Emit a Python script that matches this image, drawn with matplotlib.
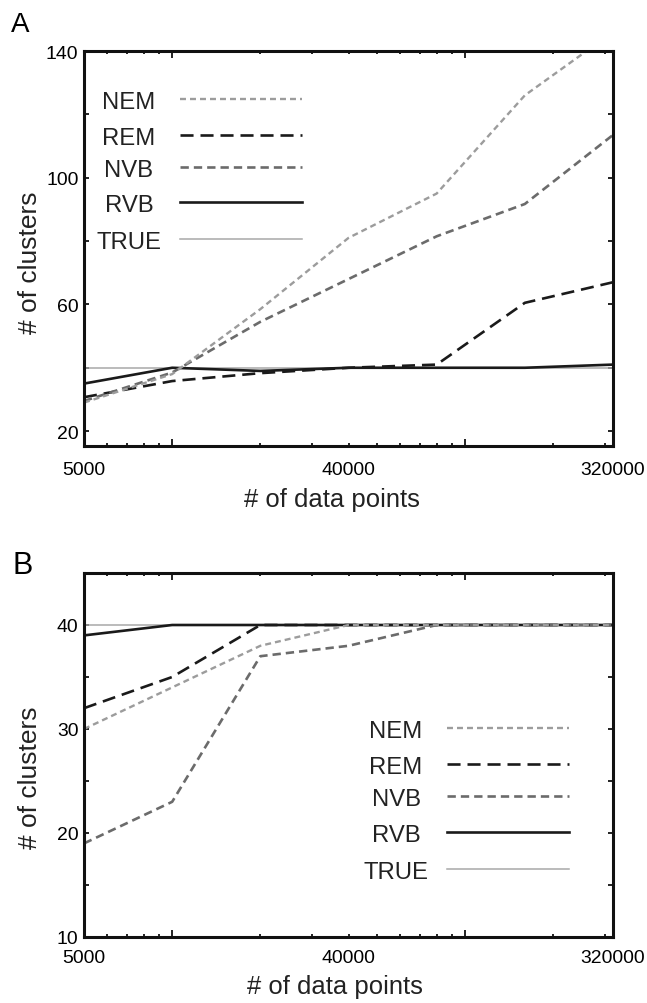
import math
import matplotlib
matplotlib.use("Agg")
import matplotlib.pyplot as plt
from matplotlib import font_manager
from matplotlib.ticker import FixedLocator, FuncFormatter, NullFormatter

# x positions (number of data points)
x_points = [5000, 10000, 20000, 40000, 80000, 160000, 320000]
x_labeled = [5000, 40000, 320000]
true_k = 40

# panel A
a_nem = [29, 38, 58.5, 81, 95, 126, 146]
a_rem = [30.7, 35.8, 38.3, 40, 41, 60.5, 67]
a_nvb = [29.5, 38.5, 54.5, 68, 81.5, 91.7, 113.5]
a_rvb = [35, 40, 39, 40, 40, 40, 41]

# panel B
b_nem = [30, 34, 38, 40, 40, 40, 40]
b_rem = [32, 35, 40, 40, 40, 40, 40]
b_nvb = [19, 23, 37, 38, 40, 40, 40]
b_rvb = [39, 40, 40, 40, 40, 40, 40]

names = {f.name for f in font_manager.fontManager.ttflist}
narrow = "Liberation Sans Narrow" if "Liberation Sans Narrow" in names else "Liberation Sans"
k = 1.0 if narrow == "Liberation Sans Narrow" else 0.84

plt.rcParams["font.family"] = ["Liberation Sans", "DejaVu Sans"]
plt.rcParams["lines.scale_dashes"] = False

styles = {
    "NEM": dict(color="#9c9c9c", lw=1.7, ls=(0, (4.3, 2.9))),
    "REM": dict(color="#1a1a1a", lw=1.9, ls=(0, (9.4, 5.0))),
    "NVB": dict(color="#6b6b6b", lw=1.9, ls=(0, (6.0, 3.6))),
    "RVB": dict(color="#1a1a1a", lw=1.9, ls="-"),
    "TRUE": dict(color="#a8a8a8", lw=1.1, ls="-"),
}

fig = plt.figure(figsize=(6.47, 10.04), dpi=100)
ax_a = fig.add_axes([84 / 647, 1 - 447 / 1004, 529 / 647, 395 / 1004])
ax_b = fig.add_axes([84 / 647, 1 - 938 / 1004, 529 / 647, 364 / 1004])


def draw(ax, series, ylim, ystep, ylabels, leg_x, leg_line, leg_y, xpad, ylab_y, xlab):
    ax.plot(x_points, [true_k] * len(x_points), **styles["TRUE"])
    for name in ["RVB", "REM", "NVB", "NEM"]:
        ax.plot(x_points, series[name], **styles[name])
    ax.set_xscale("log")
    ax.set_xlim(5000, 320000)
    ax.set_ylim(*ylim)

    ax.xaxis.set_major_locator(FixedLocator([1e4, 1e5]))
    ax.xaxis.set_major_formatter(NullFormatter())
    minor = [5000] + [m * d for d in (1e3, 1e4, 1e5) for m in range(2, 10)
                      if 6000 <= m * d <= 300000] + [320000]
    ax.xaxis.set_minor_locator(FixedLocator(minor))
    ax.xaxis.set_minor_formatter(FuncFormatter(
        lambda v, p: "%d" % round(v) if round(v) in x_labeled else ""))

    start = int(math.ceil(ylim[0] / ystep) * ystep)
    yt = list(range(start, int(ylim[1]) + 1, ystep))
    ax.yaxis.set_major_locator(FixedLocator(yt))
    ax.yaxis.set_major_formatter(FuncFormatter(
        lambda v, p: "%d" % v if int(v) in ylabels else ""))

    ax.tick_params(which="both", direction="in", top=True, right=True,
                   width=1.3, color="#111111")
    ax.tick_params(axis="x", which="major", length=5)
    ax.tick_params(axis="x", which="minor", length=2.5, pad=xpad,
                   labelsize=16.6 * k, labelfontfamily=narrow)
    ax.tick_params(axis="y", length=3.5, pad=4,
                   labelsize=16.6 * k, labelfontfamily=narrow)
    for s in ax.spines.values():
        s.set_linewidth(2.2)
        s.set_color("#111111")

    ax.set_ylabel("# of clusters", fontsize=19, va="center", color="#222222")
    ax.yaxis.set_label_coords(-0.102, ylab_y)
    if xlab is not None:
        ax.set_xlabel("# of data points", fontsize=22 * k, family=narrow,
                      va="center", color="#222222")
        ax.xaxis.set_label_coords(*xlab)

    for name, y in zip(["NEM", "REM", "NVB", "RVB", "TRUE"], leg_y):
        ax.text(leg_x, y - 0.008, name, transform=ax.transAxes, ha="center",
                va="center", fontsize=20.5 * k, family=narrow, color="#222222")
        ax.plot(leg_line, [y, y], transform=ax.transAxes, **styles[name])


draw(ax_a, {"NEM": a_nem, "REM": a_rem, "NVB": a_nvb, "RVB": a_rvb},
     (15.3, 140), 20, [20, 60, 100, 140],
     0.085, [0.1815, 0.412], [0.878, 0.788, 0.707, 0.617, 0.524],
     10.5, 0.466, (0.469, -0.134))
draw(ax_b, {"NEM": b_nem, "REM": b_rem, "NVB": b_nvb, "RVB": b_rvb},
     (10, 45), 5, [10, 20, 30, 40],
     0.590, [0.687, 0.917], [0.573, 0.475, 0.387, 0.289, 0.187],
     8.6, 0.441, (0.474, -0.135))

fig.text(20.5 / 647, 1 - 24.5 / 1004, "A", fontsize=20, ha="center", va="center")
fig.text(22.5 / 647, 1 - 565.5 / 1004, "B", fontsize=22, ha="center", va="center")

fig.savefig("out.png", dpi=100)
